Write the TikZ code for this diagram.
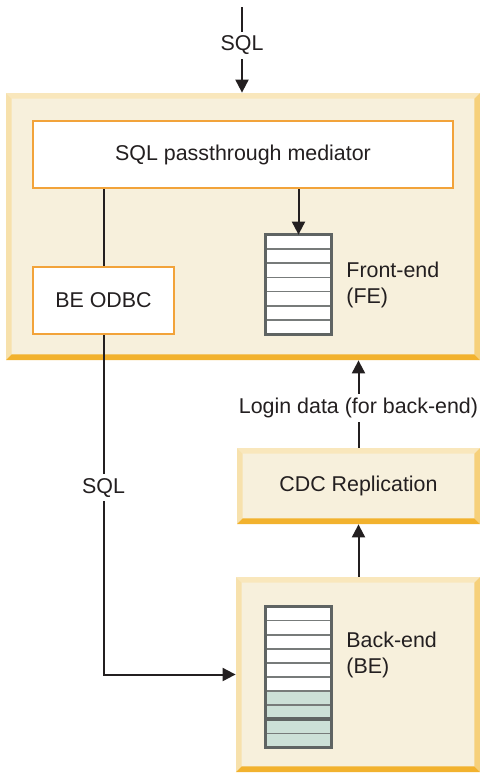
\documentclass[tikz,border=0pt]{standalone}
\usepackage{fontspec}
\setmainfont{Liberation Sans}
\usetikzlibrary{arrows.meta, positioning, calc}

\definecolor{paneFill}{HTML}{F7F0DC}
\definecolor{paneTop}{HTML}{F9E7BC}
\definecolor{paneLeft}{HTML}{F7E1AC}
\definecolor{paneBottom}{HTML}{F2B22E}
\definecolor{paneRight}{HTML}{F6D07A}
\definecolor{edgeOrange}{HTML}{F2A33A}
\definecolor{tableEdge}{HTML}{5F6463}
\definecolor{tableGreen}{HTML}{CCE0D7}
\definecolor{inkBlack}{HTML}{231F20}

\begin{document}
\begin{tikzpicture}[
  x=0.5pt, y=-0.5pt,
  every node/.style={font=\fontsize{10.7}{13}\selectfont, text=inkBlack},
  pane/.style={fill=paneFill, inner sep=0pt, path picture={
      \def\bb{path picture bounding box}
      \fill[paneTop] (\bb.north west) -- (\bb.north east) -- ([shift={(-2.8pt,-2.8pt)}]\bb.north east) -- ([shift={(2.8pt,-2.8pt)}]\bb.north west) -- cycle;
      \fill[paneLeft] (\bb.north west) -- (\bb.south west) -- ([shift={(2.8pt,2.8pt)}]\bb.south west) -- ([shift={(2.8pt,-2.8pt)}]\bb.north west) -- cycle;
      \fill[paneRight] (\bb.north east) -- (\bb.south east) -- ([shift={(-2.8pt,2.8pt)}]\bb.south east) -- ([shift={(-2.8pt,-2.8pt)}]\bb.north east) -- cycle;
      \fill[paneBottom] (\bb.south west) -- (\bb.south east) -- ([shift={(-2.8pt,2.8pt)}]\bb.south east) -- ([shift={(2.8pt,2.8pt)}]\bb.south west) -- cycle;
    }},
  block/.style={draw=edgeOrange, line width=1pt, fill=white, inner sep=0pt},
  dbtable/.style={fill=white, inner sep=0pt, minimum width=32.5pt},
  rowline/.style={draw=tableEdge!85, line width=0.8pt},
  tableframe/.style={draw=tableEdge, line width=1.5pt},
  arrow/.style={-{Triangle[width=6.5pt,length=6.5pt]}, line width=1pt, draw=inkBlack},
  link/.style={line width=1pt, draw=inkBlack},
  lbl/.style={fill=white, inner sep=2pt},
  side/.style={align=left}
  ]

  \useasboundingbox (0,0) rectangle (480,773);

  % Panes
  \node (fePane) [pane, minimum width=237pt, minimum height=133.5pt] at (243,226.5) {};
  \node (cdc) [pane, minimum width=121.5pt, minimum height=38pt] at (358.5,486) {CDC Replication};
  \node (bePane) [pane, minimum width=122pt, minimum height=97.5pt] at (358,674.5) {};

  % Front-end parts
  \node (mediator) [block, minimum width=210pt, minimum height=33.5pt] at (243,154.5) {SQL passthrough mediator};
  \node (odbc) [block, minimum width=70.5pt, minimum height=33.5pt] at (103.5,300.5) {BE ODBC};
  \node (feTable) [dbtable, minimum height=49.5pt] at (298.5,284.5) {};
  \foreach \i in {1,...,6}
    \draw[rowline] ($(feTable.north west)!\i/7!(feTable.south west)$) -- ($(feTable.north east)!\i/7!(feTable.south east)$);
  \draw[tableframe] (feTable.north west) rectangle (feTable.south east);
  \node (feText) [side, right=4pt of feTable] {Front-end\\(FE)};

  % Back-end table
  \node (beTable) [dbtable, minimum height=70pt] at (298.5,677) {};
  \fill[tableGreen] ($(beTable.north west)!0.6!(beTable.south west)$) rectangle (beTable.south east);
  \foreach \i in {1,...,9}
    \draw[rowline] ($(beTable.north west)!\i/10!(beTable.south west)$) -- ($(beTable.north east)!\i/10!(beTable.south east)$);
  \draw[tableframe, line width=2pt] ($(beTable.north west)!0.8!(beTable.south west)$) -- ($(beTable.north east)!0.8!(beTable.south east)$);
  \draw[tableframe] (beTable.north west) rectangle (beTable.south east);
  \node (beText) [side, right=4pt of beTable, yshift=11pt] {Back-end\\(BE)};

  % Connections
  \coordinate (sqlIn) at (242,7);
  \draw[arrow] (sqlIn) -- (sqlIn |- fePane.north) node[lbl, pos=0.45] {SQL};
  \draw[arrow] (mediator.south -| feTable) -- (feTable.north);
  \draw[link] (mediator.south -| odbc) -- (odbc.north);
  \draw[arrow] (odbc.south) |- (bePane.west) node[lbl, pos=0.225] {SQL};
  \draw[arrow] (bePane.north -| cdc) -- (cdc.south);
  \draw[arrow] (cdc.north) -- (cdc.north |- fePane.south) node[lbl, pos=0.45] {Login data (for back-end)};

\end{tikzpicture}
\end{document}
